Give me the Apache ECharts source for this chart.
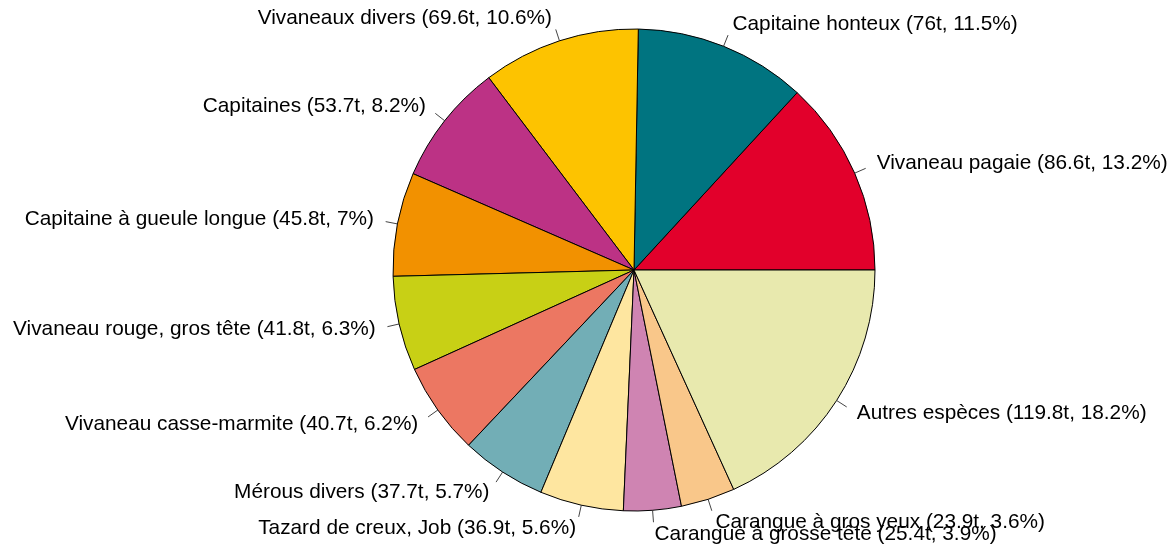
<!DOCTYPE html>
<html>
<head>
<meta charset="utf-8">
<script src="https://cdn.jsdelivr.net/npm/echarts@6/dist/echarts.min.js"></script>
<style>
  html, body { margin: 0; padding: 0; background: #fff; }
  #myChart { width: 1173px; height: 546px; }
</style>
</head>
<body>
<div id="myChart"></div>
<script>
// espèces, tonnages (t) et parts (%)
var especes = [
    "Vivaneau pagaie", "Capitaine honteux", "Vivaneaux divers", "Capitaines",
    "Capitaine à gueule longue", "Vivaneau rouge, gros tête", "Vivaneau casse-marmite",
    "Mérous divers", "Tazard de creux, Job", "Carangue à grosse tête",
    "Carangue à gros yeux", "Autres espèces"
];
var tonnages = [86.6, 76, 69.6, 53.7, 45.8, 41.8, 40.7, 37.7, 36.9, 25.4, 23.9, 119.8];
var parts = ["13.2", "11.5", "10.6", "8.2", "7", "6.3", "6.2", "5.7", "5.6", "3.9", "3.6", "18.2"];
var couleurs = [
    "#E2002B", "#007480", "#FDC300", "#BC3285", "#F29100", "#C8D015",
    "#EC7762", "#72AEB6", "#FEE6A0", "#CF84B2", "#F9C78A", "#E8E9AE"
];

var donnees = especes.map(function (nom, i) {
    return {
        name: nom + " (" + tonnages[i] + "t, " + parts[i] + "%)",
        value: tonnages[i],
        itemStyle: { color: couleurs[i] }
    };
});

var echartsContainer = echarts.init(document.getElementById("myChart"));
echartsContainer.setOption({
    animation: false,
    backgroundColor: "#fff",
    series: [
        {
            type: "pie",
            center: [634, 270],
            radius: 241,
            startAngle: 0,
            clockwise: false,
            avoidLabelOverlap: false,
            data: donnees,
            itemStyle: { borderColor: "#000", borderWidth: 1 },
            label: {
                show: true,
                position: "outside",
                formatter: "{b}",
                color: "#000",
                fontFamily: "Liberation Sans, Arial, sans-serif",
                fontSize: 20.8
            },
            labelLine: {
                show: true,
                length: 12,
                length2: 0,
                lineStyle: { color: "#444", width: 1 }
            },
            emphasis: { disabled: true },
            labelLayout: function (params) {
                // texte à 1.1 r comme dans pie() de R
                var p = params.labelLinePoints;
                if (!p) return {};
                var x = p[0][0] + (p[1][0] - p[0][0]) * 2;
                var y = p[0][1] + (p[1][1] - p[0][1]) * 2;
                return {
                    x: x,
                    y: y,
                    align: p[1][0] < p[0][0] ? "right" : "left",
                    verticalAlign: "middle",
                    labelLinePoints: p
                };
            }
        }
    ]
});
</script>
</body>
</html>
